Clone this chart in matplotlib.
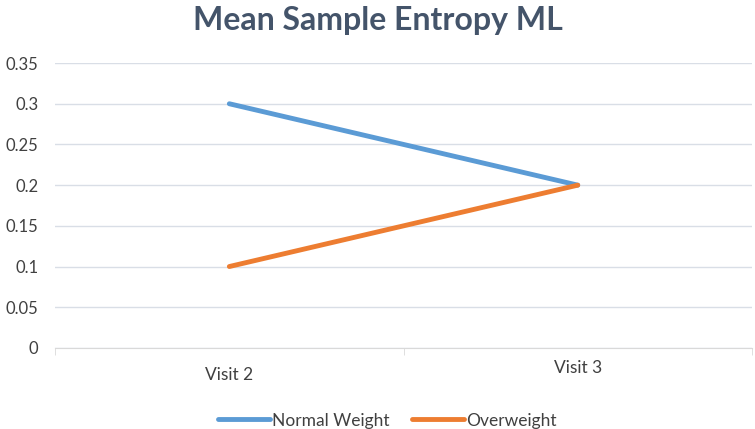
import matplotlib.pyplot as plt

# --- data ---
visits = ["Visit 2", "Visit 3"]
normalWeight = [0.3, 0.2]
overweight = [0.1, 0.2]
yTicks = [0, 0.05, 0.1, 0.15, 0.2, 0.25, 0.3, 0.35]
yTickLabels = ["0", "0.05", "0.1", "0.15", "0.2", "0.25", "0.3", "0.35"]

plt.rcParams['font.family'] = ['Lato', 'DejaVu Sans']

fig = plt.figure(figsize=(7.55, 4.29), dpi=100)
ax = fig.add_axes([0.073, 0.189, 0.923, 0.664])

xPos = list(range(len(visits)))
ax.plot(xPos, normalWeight, color="#5B9BD5", linewidth=3.5, label="Normal Weight", solid_capstyle="round")
ax.plot(xPos, overweight, color="#ED7D31", linewidth=3.5, label="Overweight", solid_capstyle="round")

ax.set_xlim(-0.5, len(visits) - 0.5)
ax.set_ylim(0, 0.35)
ax.set_yticks(yTicks)
ax.set_yticklabels(yTickLabels)
ax.yaxis.grid(True, color="#D9DEE6", linewidth=1)
ax.set_axisbelow(True)

ax.set_xticks(xPos)
ax.set_xticklabels(visits)
ax.set_xticks([-0.5, 0.5, 1.5], minor=True)
ax.tick_params(axis="x", which="major", length=0, labelsize=12.5, labelcolor="#404040")
ax.tick_params(axis="x", which="minor", length=5, color="#D9D9D9", direction="out")
ax.tick_params(axis="y", length=0, labelsize=12, labelcolor="#404040", pad=12)
# Visit 2 label sits slightly lower in the original
ax.xaxis.get_major_ticks()[0].set_pad(14)
ax.xaxis.get_major_ticks()[1].set_pad(9)

for side in ["top", "right", "left"]:
    ax.spines[side].set_visible(False)
ax.spines["bottom"].set_color("#D9D9D9")

fig.suptitle("Mean Sample Entropy ML", fontsize=23, fontweight="bold", color="#44546A", y=0.985)

ax.legend(loc="center", bbox_to_anchor=(0.477, -0.255), ncol=2, frameon=False,
          fontsize=12.5, handlelength=3.0, handletextpad=0.1, columnspacing=1.3,
          labelcolor="#404040")

fig.savefig("out.png", dpi=100)
